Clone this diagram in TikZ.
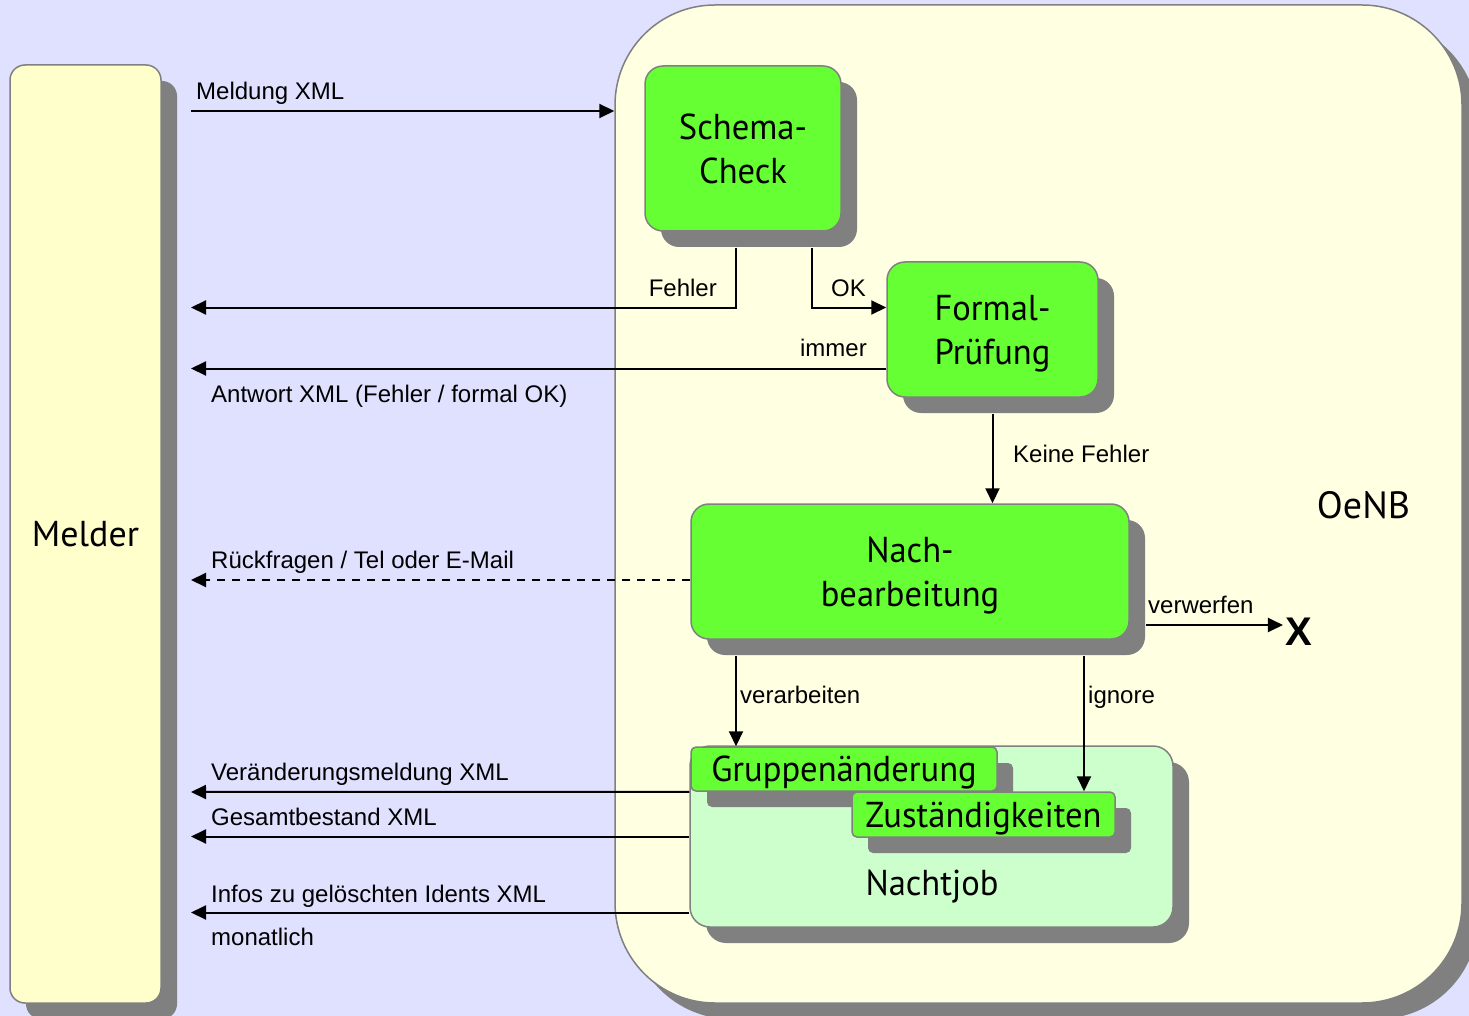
\documentclass[tikz,border=0pt]{standalone}
\usepackage{fontspec}
\setmainfont{Liberation Sans}
\newfontfamily\boxfont[FakeStretch=0.96]{PT Sans}
\newfontfamily\areafont{PT Sans}
\usepackage{tikz}
\usetikzlibrary{arrows.meta,shadows}

\definecolor{bgblue}{HTML}{E0E0FF}
\definecolor{paleyellow}{HTML}{FFFFE2}
\definecolor{melderyellow}{HTML}{FFFFCC}
\definecolor{boxgreen}{HTML}{66FF33}
\definecolor{jobgreen}{HTML}{CCFFCC}
\definecolor{shadowgray}{HTML}{808080}

\tikzset{
  flat shadow/.style={drop shadow={shadow xshift=16pt, shadow yshift=-16pt,
                                   fill=shadowgray, opacity=1}},
  area/.style={draw=shadowgray, line width=1.5pt, flat shadow, inner sep=0pt},
  box/.style={area, fill=boxgreen, rounded corners=18pt, align=center,
              text depth=0pt, font=\boxfont\fontsize{36}{44}\selectfont},
  tag/.style={area, fill=boxgreen, rounded corners=5pt, text depth=0pt,
              font=\boxfont\fontsize{36}{44}\selectfont},
  lbl/.style={font=\fontsize{24}{28}\selectfont, inner sep=0pt},
  arr/.style={line width=2pt, -{Triangle[length=15pt, width=14pt]}}
}

\begin{document}
\begin{tikzpicture}[x=1pt, y=-1pt]
\clip (0,0) rectangle (1469,1016);
\fill[bgblue] (0,0) rectangle (1469,1016);

%% 两个大区域
\node[area, fill=melderyellow, rounded corners=15pt,
      minimum width=151pt, minimum height=938pt,
      font=\areafont\fontsize{36}{44}\selectfont] (melder) at (85.5,534) {Melder};
\node[area, fill=paleyellow, rounded corners=100pt,
      minimum width=847pt, minimum height=998pt] (oenb) at (1038.5,504) {};
\node[font=\areafont\fontsize{38}{44}\selectfont, anchor=base] (oenbtxt) at (1363.5,518) {OeNB};

%% 处理步骤
\node[box, minimum width=196pt, minimum height=165pt] (schema) at (743,148.5) {Schema-\\Check};
\node[box, minimum width=211pt, minimum height=135pt] (formal) at (992.5,329.5) {Formal-\\Prüfung};
\node[box, minimum width=438pt, minimum height=135pt] (nach) at (910,571.5) {Nach-\\bearbeitung};
\node[area, fill=jobgreen, rounded corners=20pt,
      minimum width=483pt, minimum height=181pt] (nachtjob) at (931.5,836.5) {};
\node[tag, minimum width=306pt, minimum height=44pt] (gruppe) at (844,769) {Gruppenänderung};
\node[tag, minimum width=263pt, minimum height=45pt] (zust) at (983.5,814.5) {Zuständigkeiten};
\node[font=\boxfont\fontsize{36}{44}\selectfont, anchor=base] (jobtxt) at (932,895) {Nachtjob};
\node[font=\bfseries\fontsize{40}{44}\selectfont, inner sep=2pt] (xmark) at (1298.5,632) {X};

%% 连线
\coordinate (meldA) at (191,111);
\coordinate (fehlerA) at (191,307.5);
\coordinate (immerA) at (191,368.5);
\coordinate (rueckA) at (191,580);
\coordinate (veraendA) at (191,792);
\coordinate (gesamtA) at (191,836.5);
\coordinate (infosA) at (191,912.5);
\coordinate (keineA) at ([yshift=-16pt]formal.south);
\coordinate (verwA) at ([xshift=16pt,yshift=-53.5pt]nach.east);
\coordinate (verarbA) at ([xshift=-174pt,yshift=-16pt]nach.south);
\coordinate (ignoreA) at ([xshift=174pt,yshift=-16pt]nach.south);

\draw[arr] (meldA) -- (meldA -| oenb.west);
\draw[arr] ([xshift=-7pt,yshift=-16pt]schema.south) |- (fehlerA);
\draw[arr] ([xshift=69pt,yshift=-16pt]schema.south) |- ([yshift=22pt]formal.west);
\draw[arr] ([yshift=-39pt]formal.west) -- (immerA);
\draw[arr] (keineA) -- (keineA |- nach.north);
\draw[arr, dash pattern=on 8pt off 7pt] ([yshift=-8.5pt]nach.west) -- (rueckA);
\draw[arr] (verwA) -- (verwA -| xmark.west);
\draw[arr] (verarbA) -- (verarbA |- gruppe.north);
\draw[arr] (ignoreA) -- (ignoreA |- zust.north);
\draw[arr] (nachtjob.west |- gruppe.south) -- (veraendA);
\draw[arr] (nachtjob.west) -- (gesamtA);
\draw[arr] ([yshift=-76pt]nachtjob.west) -- (infosA);

%% 标签
\node[lbl, anchor=base west] (lmeld) at (196,100) {Meldung XML};
\node[lbl, anchor=base east] (lfehler) at (717,296) {Fehler};
\node[lbl, anchor=base west] (lok) at (831,296) {OK};
\node[lbl, anchor=base east] (limmer) at (867,356) {immer};
\node[lbl, anchor=base west] (lantwort) at (211,402) {Antwort XML (Fehler / formal OK)};
\node[lbl, anchor=base west] (lkeine) at (1013,462) {Keine Fehler};
\node[lbl, anchor=base west] (lrueck) at (211,568) {Rückfragen / Tel oder E-Mail};
\node[lbl, anchor=base west] (lverw) at (1148,613) {verwerfen};
\node[lbl, anchor=base west] (lverarb) at (740,703) {verarbeiten};
\node[lbl, anchor=base west] (lignore) at (1088,703) {ignore};
\node[lbl, anchor=base west] (lveraend) at (211,780) {Veränderungsmeldung XML};
\node[lbl, anchor=base west] (lgesamt) at (211,825) {Gesamtbestand XML};
\node[lbl, anchor=base west] (linfos) at (211,902) {Infos zu gelöschten Idents XML};
\node[lbl, anchor=base west] (lmonat) at (211,945) {monatlich};
\end{tikzpicture}
\end{document}
